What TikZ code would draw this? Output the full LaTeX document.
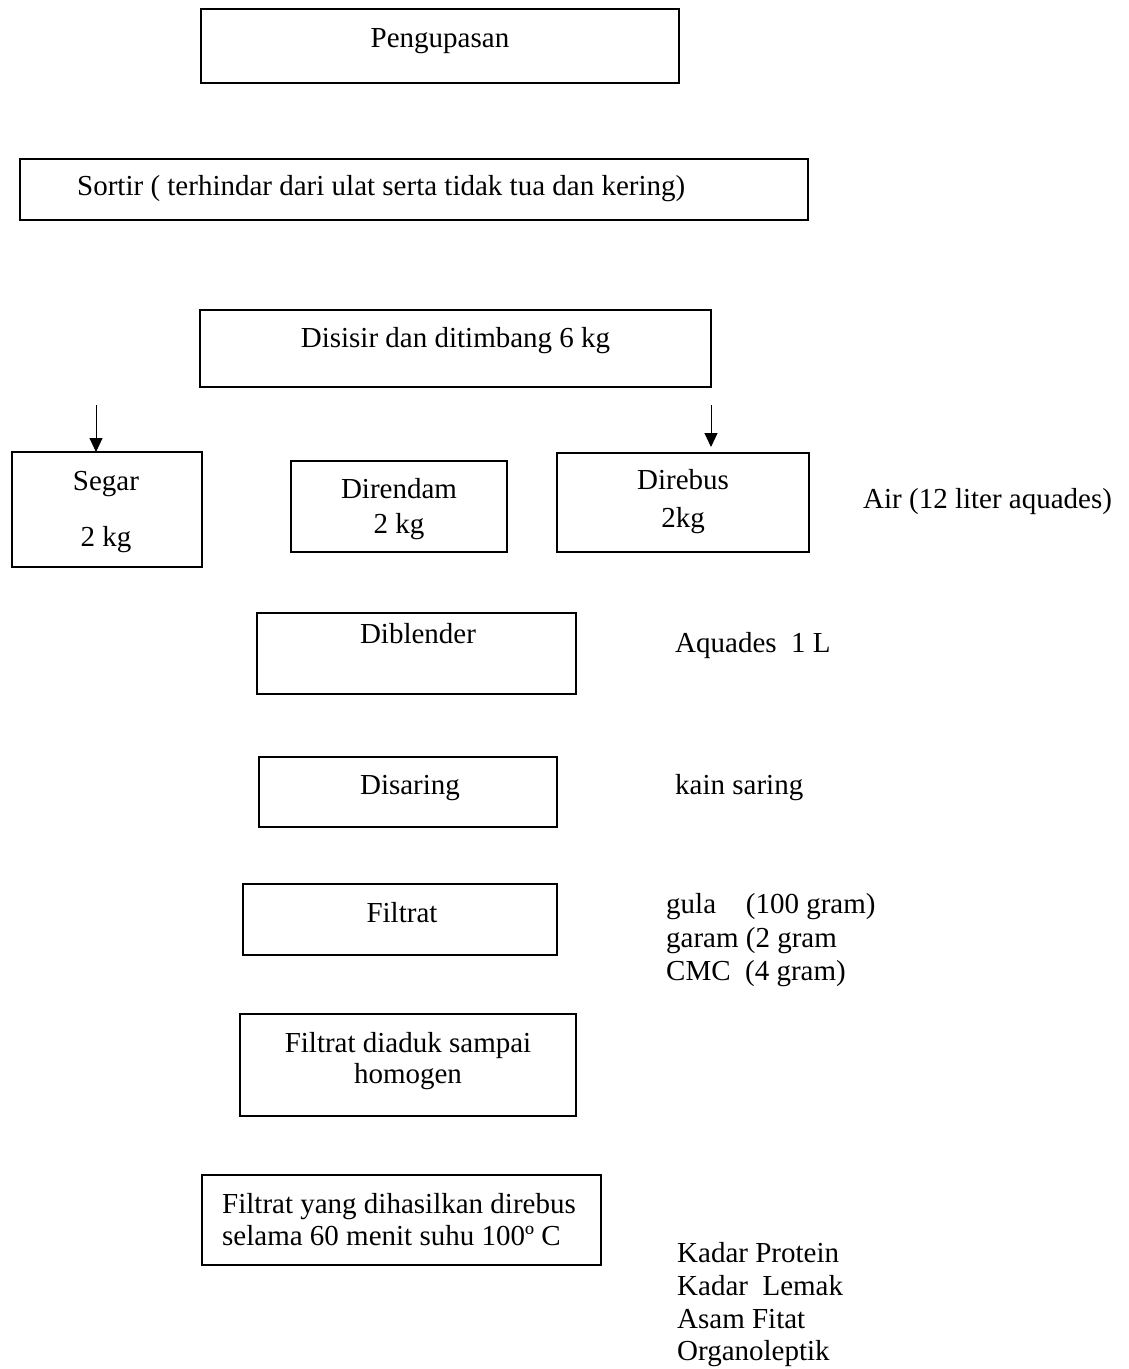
\documentclass[tikz,border=0pt]{standalone}
\usepackage{fontspec}
\setmainfont{Liberation Serif}
\usetikzlibrary{arrows.meta}
\begin{document}
\begin{tikzpicture}[x=1pt,y=-1pt,
  box/.style={draw, line width=1.6pt, rectangle, inner sep=0pt, outer sep=0pt},
  tc/.style={inner sep=0pt, anchor=base, font=\fontsize{29}{32}\selectfont},
  tl/.style={inner sep=0pt, anchor=base west, font=\fontsize{29}{32}\selectfont},
  arr/.style={line width=1pt, -{Triangle[width=13pt,length=14pt]}}]
\useasboundingbox (0,0) rectangle (1129,1369);
% boxes
\node[box, minimum width=478pt, minimum height=74pt] (peng) at (440,46) {};
\node[box, minimum width=788pt, minimum height=61pt] (sortir) at (414,189.5) {};
\node[box, minimum width=511pt, minimum height=77pt] (disisir) at (455.5,348.5) {};
\node[box, minimum width=190pt, minimum height=115pt] (segar) at (107,509.5) {};
\node[box, minimum width=216pt, minimum height=91pt] (direndam) at (399,506.5) {};
\node[box, minimum width=252pt, minimum height=99pt] (direbus) at (683,502.5) {};
\node[box, minimum width=319pt, minimum height=81pt] (diblender) at (416.5,653.5) {};
\node[box, minimum width=298pt, minimum height=70pt] (disaring) at (408,792) {};
\node[box, minimum width=314pt, minimum height=71pt] (filtrat) at (400,919.5) {};
\node[box, minimum width=336pt, minimum height=102pt] (aduk) at (408,1065) {};
\node[box, minimum width=399pt, minimum height=90pt] (rebus) at (401.5,1220) {};
% texts
\node[tc] (tpeng) at (440,47) {Pengupasan};
\node[tl] (tsortir) at (77,195) {Sortir ( terhindar dari ulat serta tidak tua dan kering)};
\node[tc] (tdisisir) at (455.5,347) {Disisir dan ditimbang 6 kg};
\node[tc] (tsegar1) at (106,490) {Segar};
\node[tc] (tsegar2) at (106,546) {2 kg};
\node[tc] (trendam1) at (399,498) {Direndam};
\node[tc] (trendam2) at (399,533) {2 kg};
\node[tc] (trebus1) at (683,489) {Direbus};
\node[tc] (trebus2) at (683,527) {2kg};
\node[tl] (tair) at (863,508) {Air (12 liter aquades)};
\node[tc] (tblend) at (418,643) {Diblender};
\node[tl] (taq) at (675,652) {Aquades\ \ 1 L};
\node[tc] (tsaring) at (410,794) {Disaring};
\node[tl] (tkain) at (675,794) {kain saring};
\node[tc] (tfiltrat) at (402,922) {Filtrat};
\node[tl] (tgula) at (666,913) {gula\phantom{m} (100 gram)};
\node[tl] (tgaram) at (666,947) {garam (2 gram};
\node[tl] (tcmc) at (666,980) {CMC\ \ (4 gram)};
\node[tc] (taduk1) at (408,1052) {Filtrat diaduk sampai};
\node[tc] (taduk2) at (408,1083) {homogen};
\node[tl] (trebusa) at (222,1213) {Filtrat yang dihasilkan direbus};
\node[tl] (trebusb) at (222,1245) {selama 60 menit suhu 100º C};
\node[tl] (tk1) at (677,1262) {Kadar Protein};
\node[tl] (tk2) at (677,1295) {Kadar\ \ Lemak};
\node[tl] (tk3) at (677,1328) {Asam Fitat};
\node[tl] (tk4) at (677,1360) {Organoleptik};
% arrows
\coordinate (a1) at (96,405);
\coordinate (a2) at (711,405);
\coordinate (a2e) at (711,447);
\draw[arr] (a1) -- (a1 |- segar.north);
\draw[arr] (a2) -- (a2e);
\end{tikzpicture}
\end{document}
